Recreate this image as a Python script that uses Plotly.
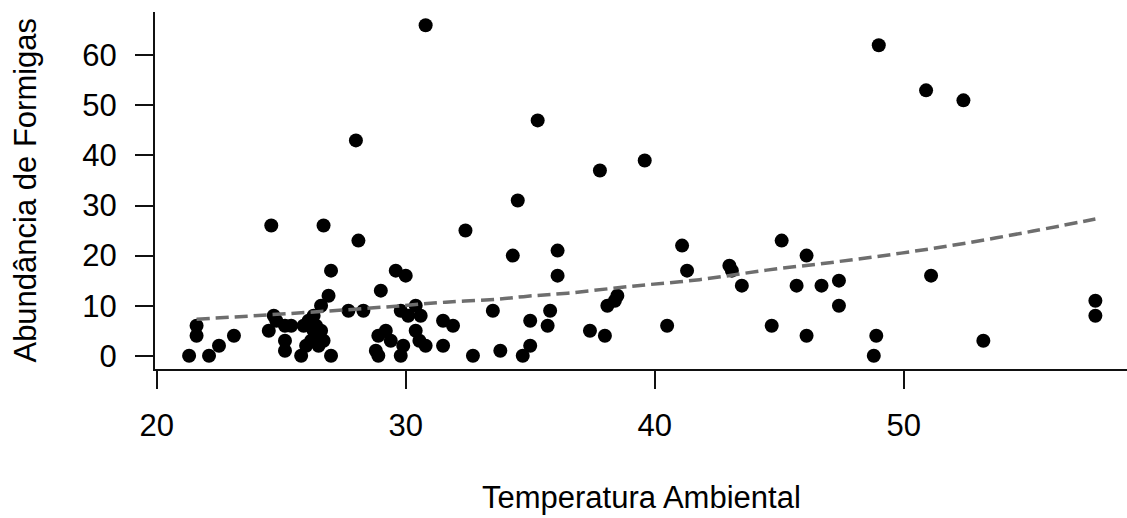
import plotly.graph_objects as go

# Observed data: Temperatura Ambiental (x) vs Abundância de Formigas (y)
temperatura = [
    30.8, 49.0, 50.9, 52.4, 35.3, 28.0, 39.6, 37.8, 34.5, 24.6,
    26.7, 32.4, 28.1, 45.1, 41.1, 36.1, 34.3, 46.1, 43.0, 43.1,
    41.3, 27.0, 29.6, 30.0, 36.1, 51.1, 47.4, 43.5, 45.7, 46.7,
    29.0, 38.5, 26.9, 57.7, 38.4, 26.6, 30.4, 38.1, 47.4, 27.7,
    28.3, 29.8, 33.5, 35.8, 30.1, 30.6, 57.7, 24.7, 21.6, 21.6,
    22.1, 21.3, 22.5, 23.1, 24.5, 24.8, 25.15, 25.4, 25.15, 25.15,
    25.8, 25.9, 26.1, 26.3, 26.4, 26.5, 26.6, 26.2, 26.0, 26.7,
    26.5, 26.3, 27.0, 31.5, 31.9, 28.9, 29.2, 29.4, 28.8, 28.9,
    30.4, 29.9, 29.8, 30.55, 30.8, 31.5, 32.7, 33.8, 34.7, 35.0,
    35.0, 35.7, 37.4, 38.0, 40.5, 44.7, 46.1, 48.9, 48.8, 53.2,
]
abundancia = [
    66, 62, 53, 51, 47, 43, 39, 37, 31, 26,
    26, 25, 23, 23, 22, 21, 20, 20, 18, 17,
    17, 17, 17, 16, 16, 16, 15, 14, 14, 14,
    13, 12, 12, 11, 11, 10, 10, 10, 10, 9,
    9, 9, 9, 9, 8, 8, 8, 8, 6, 4,
    0, 0, 2, 4, 5, 7, 6, 6, 3, 1,
    0, 6, 7, 5, 6, 4, 5, 3, 2, 3,
    2, 8, 0, 7, 6, 4, 5, 3, 1, 0,
    5, 2, 0, 3, 2, 2, 0, 1, 0, 2,
    7, 6, 5, 4, 6, 6, 4, 4, 0, 3,
]

# Fitted curve values
curva_x = [21.6, 26.8, 29.6, 31.6, 33.7, 34.9, 36.5, 39.1, 41.8, 44.5, 47.2, 49.9, 52.5, 55.2, 57.7]
curva_y = [7.3, 8.9, 9.9, 10.7, 11.3, 11.9, 12.5, 13.9, 15.2, 17.1, 18.7, 20.5, 22.5, 24.9, 27.3]

x_ticks = [20, 30, 40, 50]
y_ticks = [0, 10, 20, 30, 40, 50, 60]

FONT = "Liberation Sans, Arial, sans-serif"
FS = 31

fig = go.Figure()
fig.add_trace(go.Scatter(
    x=temperatura, y=abundancia, mode="markers",
    marker=dict(color="black", size=14, line=dict(width=0)),
    showlegend=False, hoverinfo="x+y",
))
fig.add_trace(go.Scatter(
    x=curva_x, y=curva_y, mode="lines",
    line=dict(color="#6e6e6e", width=3.5, dash="13px,6px", shape="spline"),
    showlegend=False, hoverinfo="skip",
))

fig.update_layout(
    width=1127, height=518,
    margin=dict(l=155, r=0, t=12, b=149, pad=0),
    paper_bgcolor="white", plot_bgcolor="white",
    font=dict(family=FONT, size=FS, color="black"),
    xaxis=dict(
        range=[19.93, 58.97], tickvals=x_ticks, ticktext=[str(v) for v in x_ticks],
        showgrid=False, zeroline=False, showline=True, linecolor="#111", linewidth=2,
        ticks="outside", ticklen=18, tickwidth=2, tickcolor="#111",
        ticklabelstandoff=10, automargin=False,
        tickfont=dict(family=FONT, size=FS, color="black"),
    ),
    yaxis=dict(
        range=[-2.64, 68.64], tickvals=y_ticks, ticktext=[str(v) for v in y_ticks],
        showgrid=False, zeroline=False, showline=True, linecolor="#111", linewidth=2,
        ticks="outside", ticklen=18, tickwidth=2, tickcolor="#111",
        ticklabelstandoff=12, automargin=False,
        tickfont=dict(family=FONT, size=FS, color="black"),
    ),
    annotations=[
        dict(text="Temperatura Ambiental", xref="paper", yref="paper",
             x=0.5, y=-0.36, xanchor="center", yanchor="middle", showarrow=False,
             font=dict(family=FONT, size=FS, color="black")),
        dict(text="Abundância de Formigas", xref="paper", yref="paper",
             x=-0.1337, y=0.5, xanchor="center", yanchor="middle", textangle=-90,
             showarrow=False, font=dict(family=FONT, size=FS, color="black")),
    ],
)

fig.write_html(
    "out.html",
    config={"displayModeBar": False},
    post_script="document.body.style.margin='0';document.body.style.overflow='hidden';",
)
